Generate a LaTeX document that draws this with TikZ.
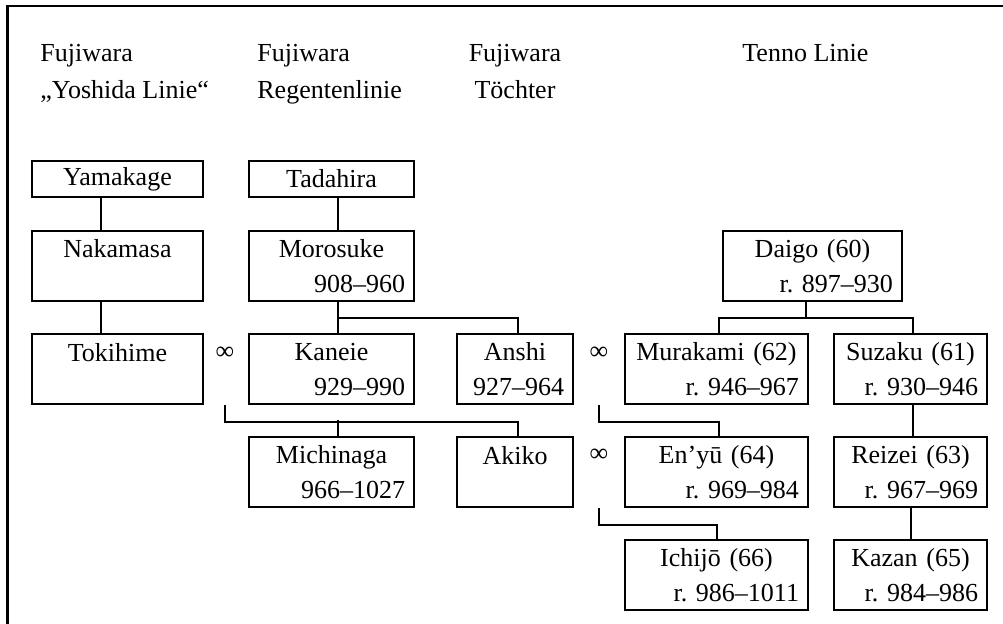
\documentclass[tikz,border=0pt]{standalone}
\usepackage{fontspec}
\setmainfont{Liberation Serif}
\usepackage{tikz}
\newcommand{\yrs}[1]{\\\hspace*{\fill}#1}

\begin{document}
\begin{tikzpicture}[x=0.5pt,y=-0.5pt,
    person/.style={draw, line width=1pt, inner xsep=4.5pt, inner ysep=0pt, align=center,
        font=\fontsize{13}{17.5}\selectfont},
    one/.style={person, minimum height=18pt},
    two/.style={person, minimum height=35pt},
    colA/.style={text width=76.5pt},
    colB/.style={text width=73.5pt},
    colC/.style={text width=49pt},
    colD/.style={text width=82.5pt},
    colE/.style={text width=67.5pt},
    marr/.style={inner sep=0pt, font=\fontsize{13}{17.5}\selectfont},
    head/.style={anchor=base west, align=left, inner sep=0pt, font=\fontsize{13}{18.3}\selectfont},
    tie/.style={line width=1pt}]
    \useasboundingbox (0,0) rectangle (1003,624);
    \draw[line width=1.35pt] (7.7,624) -- (7.7,6) -- (1003,6);

    % column heads
    \node[head] (hyoshida) at (40,98.3) {Fujiwara\\„Yoshida Linie“};
    \node[head] (hregent) at (257,98.3) {Fujiwara\\Regentenlinie};
    \node[head, anchor=base, align=center] (htochter) at (515,98.3) {Fujiwara\\Töchter};
    \node[head] (htenno) at (742,61.7) {Tenno Linie};

    % Yoshida line
    \node[one, colA] (yamakage) at (117.5,179) {Yamakage};
    \node[two, colA] (nakamasa) at (117.5,266) {Nakamasa\yrs{}};
    \node[two, colA] (tokihime) at (117.5,369.5) {Tokihime\yrs{}};

    % regents
    \node[one, colB] (tadahira) at (331.5,179) {Tadahira};
    \node[two, colB] (morosuke) at (331.5,266) {Morosuke\yrs{908--960}};
    \node[two, colB] (kaneie) at (331.5,369.5) {Kaneie\yrs{929--990}};
    \node[two, colB] (michinaga) at (331.5,472.5) {Michinaga\yrs{966--1027}};

    % daughters
    \node[two, colC] (anshi) at (515,369.5) {Anshi\yrs{927--964}};
    \node[two, colC] (akiko) at (515,472.5) {Akiko\yrs{}};

    % tenno
    \node[two, text width=80.5pt] (daigo) at (812.5,266) {Daigo (60)\yrs{r.\ 897--930}};
    \node[two, colD] (murakami) at (716.5,369.5) {Murakami (62)\yrs{r.\ 946--967}};
    \node[two, colE] (suzaku) at (910.5,369.5) {Suzaku (61)\yrs{r.\ 930--946}};
    \node[two, colD] (enyu) at (716.5,472.5) {En’yū (64)\yrs{r.\ 969--984}};
    \node[two, colE] (reizei) at (910.5,472.5) {Reizei (63)\yrs{r.\ 967--969}};
    \node[two, colD] (ichijo) at (716.5,575) {Ichijō (66)\yrs{r.\ 986--1011}};
    \node[two, colE] (kazan) at (910.5,575) {Kazan (65)\yrs{r.\ 984--986}};

    % marriages
    \node[marr] (inf1) at (225,353) {∞};
    \node[marr] (inf2) at (599,353) {∞};
    \node[marr] (inf3) at (599,455) {∞};

    \draw[tie] ([xshift=-8.25pt]yamakage.south) -- ([xshift=-8.25pt]nakamasa.north);
    \draw[tie] ([xshift=-8.25pt]nakamasa.south) -- ([xshift=-8.25pt]tokihime.north);
    \draw[tie] ([xshift=3.25pt]tadahira.south) -- ([xshift=3.25pt]morosuke.north);
    \draw[tie] ([xshift=3.25pt]morosuke.south) -- ([xshift=3.25pt]kaneie.north);
    \draw[tie] ([xshift=3.25pt]morosuke.south) ++(0,16.5) -| ([xshift=1.5pt]anshi.north);
    \draw[tie] ([xshift=-3.25pt]daigo.south) -- ++(0,16.5) coordinate (dj);
    \draw[tie] ([xshift=1.25pt]murakami.north) |- (dj) -| ([xshift=1.25pt]suzaku.north);
    \draw[tie] ([xshift=1.25pt]suzaku.south) -- ([xshift=1.25pt]reizei.north);
    \draw[tie] (reizei.south) -- (kazan.north);
    \draw[tie] (inf1 |- kaneie.south) -- ++(0,16.5) -| ([xshift=1.5pt]akiko.north);
    \draw[tie] ([xshift=3.25pt]michinaga.north) -- ++(0,-16);
    \draw[tie] (inf2 |- anshi.south) -- ++(0,16.5) -| ([xshift=1.25pt]enyu.north);
    \draw[tie] (inf3 |- akiko.south) -- ++(0,16.5) -| ([xshift=0.25pt]ichijo.north);
\end{tikzpicture}
\end{document}
